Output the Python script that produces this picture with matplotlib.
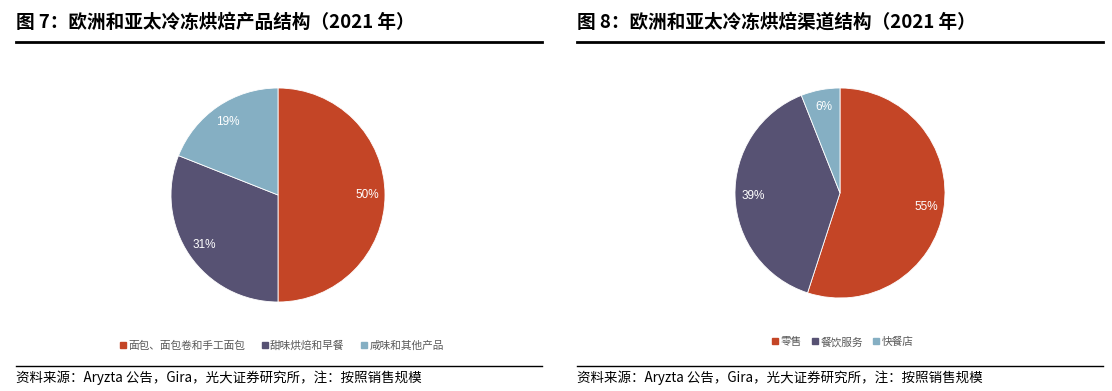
import matplotlib
matplotlib.use("Agg")
import matplotlib.pyplot as plt
from matplotlib.lines import Line2D

plt.rcParams['font.family'] = ['Noto Sans CJK SC', 'DejaVu Sans']

W, H = 1112, 391

# Data
left_title = "图 7：欧洲和亚太冷冻烘焙产品结构（2021 年）"
left_labels = ["面包、面包卷和手工面包", "甜味烘焙和早餐", "咸味和其他产品"]
left_values = [50, 31, 19]

right_title = "图 8：欧洲和亚太冷冻烘焙渠道结构（2021 年）"
right_labels = ["零售", "餐饮服务", "快餐店"]
right_values = [55, 39, 6]

source_text = "资料来源：Aryzta 公告，Gira，光大证券研究所，注：按照销售规模"
colors = ["#C44526", "#575273", "#85AFC3"]

fig = plt.figure(figsize=(W / 100, H / 100), dpi=100)
fig.patch.set_facecolor("white")


def px_axes(cx, cy, r):
    return fig.add_axes([(cx - r) / W, 1 - (cy + r) / H, 2 * r / W, 2 * r / H])


def draw_pie(cx, cy, r, values, labels, leg_y, leg_cx, colsp):
    ax = px_axes(cx, cy, r)
    ax.pie(values, colors=colors, startangle=90, counterclock=False,
           autopct=lambda p: f"{p:.0f}%", pctdistance=0.83,
           wedgeprops=dict(linewidth=0.6, edgecolor="white"),
           textprops=dict(color="white", fontsize=8.5, family=["Liberation Sans"]))
    ax.set_xlim(-1, 1)
    ax.set_ylim(-1, 1)
    ax.set_aspect("equal")
    handles = [Line2D([], [], marker="s", linestyle="none", markersize=5,
                      markerfacecolor=c, markeredgecolor=c) for c in colors]
    fig.legend(handles, labels, loc="center", bbox_to_anchor=(leg_cx / W, 1 - leg_y / H),
               ncol=3, frameon=False, fontsize=7.7, labelcolor="#595959",
               handlelength=0.5, handletextpad=0.25, columnspacing=colsp)


draw_pie(278, 195, 107, left_values, left_labels, 346, 282, 1.6)
draw_pie(840, 193, 105, right_values, right_labels, 342, 843, 1.0)

# Titles and rules
for x0, x1, title in [(16, 542, left_title), (577, 1103, right_title)]:
    fig.text(x0 / W, 1 - 22 / H, title, fontsize=13.4, fontweight="bold",
             ha="left", va="center", color="black")
    fig.add_artist(Line2D([x0 / W, x1 / W], [1 - 42 / H, 1 - 42 / H],
                          color="black", linewidth=2.0))
    fig.add_artist(Line2D([x0 / W, x1 / W], [1 - 366 / H, 1 - 366 / H],
                          color="black", linewidth=1.0))
    fig.text(x0 / W, 1 - 378 / H, source_text, fontsize=9.7,
             ha="left", va="center", color="black")

fig.savefig("out.png", dpi=100)
